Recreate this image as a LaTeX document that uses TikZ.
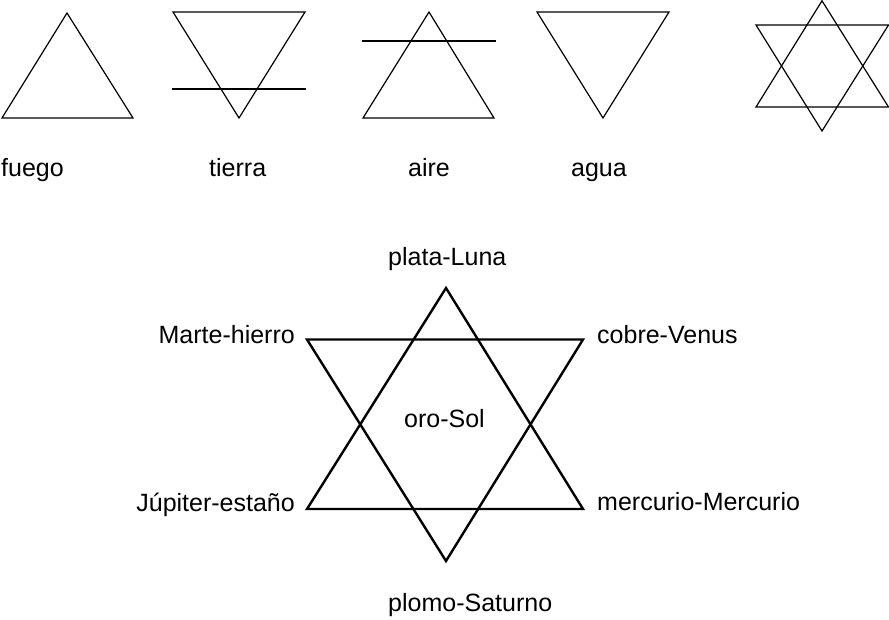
\documentclass[tikz,border=0pt]{standalone}
\usepackage{fontspec}
\setmainfont{Liberation Sans}
\begin{document}
\begin{tikzpicture}[x=1pt,y=-1pt,
  thinline/.style={line width=1.2pt,line join=miter},
  thickline/.style={line width=2.4pt,line join=miter},
  lbl/.style={inner sep=0pt,font=\fontsize{25}{30}\selectfont}]
\useasboundingbox (0,0) rectangle (889,619);
% fuego
\draw[thinline] (67,13) -- (133,118) -- (2,118) -- cycle;
% tierra
\draw[thinline] (173,12) -- (305,12) -- (239,118) -- cycle;
\draw[thinline] (172,89) -- (306,89);
% aire
\draw[thinline] (429,12) -- (494,118) -- (363,118) -- cycle;
\draw[thinline] (362,41) -- (496,41);
% agua
\draw[thinline] (537,12) -- (669,12) -- (603,118) -- cycle;
% small star
\draw[thinline] (822,0.8) -- (888.5,107) -- (756,107) -- cycle;
\draw[thinline] (756,25) -- (888.5,25) -- (822,131) -- cycle;
% labels top
\node[lbl,anchor=base west] (fuego) at (1,176) {fuego};
\node[lbl,anchor=base west] (tierra) at (209,176) {tierra};
\node[lbl,anchor=base] (aire) at (429,176) {aire};
\node[lbl,anchor=base] (agua) at (599,176) {agua};
% big star
\coordinate (T) at (446,288);
\coordinate (B) at (446,561);
\coordinate (TL) at (307,339.5);
\coordinate (TR) at (583,339.5);
\coordinate (BL) at (307,509);
\coordinate (BR) at (583,509);
\draw[thickline] (T) -- (BR) -- (BL) -- cycle;
\draw[thickline] (TL) -- (TR) -- (B) -- cycle;
% big labels
\node[lbl,anchor=base west] (luna) at (388,265) {plata-Luna};
\node[lbl,anchor=base west] (saturno) at (388,611) {plomo-Saturno};
\node[lbl,anchor=base east] (marte) at (295,343) {Marte-hierro};
\node[lbl,anchor=base east] (jupiter) at (295,511) {Júpiter-estaño};
\node[lbl,anchor=base west] (venus) at (597,343) {cobre-Venus};
\node[lbl,anchor=base west] (mercurio) at (597,510) {mercurio-Mercurio};
\node[lbl,anchor=base west] (sol) at (404,427) {oro-Sol};
\end{tikzpicture}
\end{document}
